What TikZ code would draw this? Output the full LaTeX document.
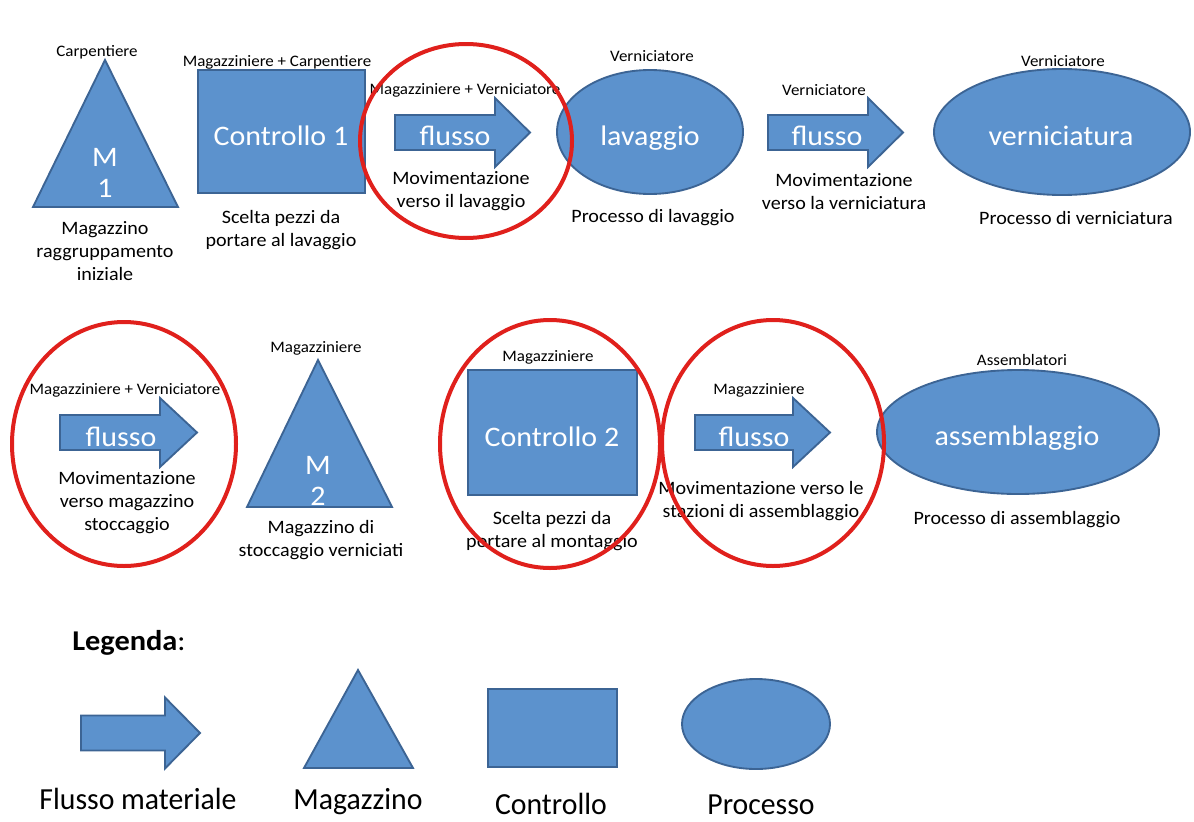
\documentclass[tikz,border=0pt]{standalone}
\usepackage{fontspec}
\setmainfont{Carlito}[FakeStretch=1.06]
\newfontfamily\legfont{Carlito}[FakeStretch=0.97]
\definecolor{shapefill}{RGB}{92,146,205}
\definecolor{shapeline}{RGB}{60,100,148}
\definecolor{ringred}{RGB}{224,32,28}
\newcommand{\flarrow}[5]{%
  \path[blueshape] (#1,{#4-17.5}) -- (#2,{#4-17.5}) -- (#2,{#4-#5}) -- (#3,#4)
    -- (#2,{#4+#5}) -- (#2,{#4+17.5}) -- (#1,{#4+17.5}) -- cycle;}
\begin{document}
\begin{tikzpicture}[x=0.75pt,y=-0.75pt,
  blueshape/.style={fill=shapefill,draw=shapeline,line width=1.4pt,line join=miter},
  redring/.style={draw=ringred,line width=3pt},
  sm/.style={font=\fontsize{12}{14}\selectfont,inner sep=0pt},
  desc/.style={font=\fontsize{14.2}{17.25}\selectfont,align=center,inner sep=0pt},
  big/.style={font=\fontsize{21.2}{24}\selectfont,text=white,inner sep=0pt,anchor=base},
  bigtri/.style={font=\fontsize{21.2}{23}\selectfont,text=white,align=center,inner sep=0pt},
  leg/.style={font=\legfont\fontsize{23}{28}\selectfont,inner sep=0pt,anchor=base}]
\useasboundingbox (0,0) rectangle (1194,821);
\fill[white] (0,0) rectangle (1194,821);

% ---------- Row 1 ----------
\path[blueshape] (105,60) -- (178,207) -- (33,207) -- cycle;
\path[blueshape] (198,70) rectangle (365,193);
\flarrow{395}{495}{530}{132.5}{34.5}
\path[blueshape] (650,132) ellipse [x radius=93, y radius=62];
\flarrow{768}{868}{903}{132.5}{34.5}
\path[blueshape] (1062,132) ellipse [x radius=128, y radius=63];

\node[bigtri] (m1t) at (105,173) {M\\1};
\node[big] (c1t) at (281,145) {Controllo 1};
\node[big] (f1t) at (455,145) {flusso};
\node[big] (l1t) at (650,145) {lavaggio};
\node[big] (f2t) at (827,145) {flusso};
\node[big] (v1t) at (1061,145) {verniciatura};

\node[sm] (m1s) at (97,52) {Carpentiere};
\node[sm] (c1s) at (277,62) {Magazziniere + Carpentiere};
\node[sm] (f1s) at (465,90) {Magazziniere + Verniciatore};
\node[sm] (l1s) at (652,56) {Verniciatore};
\node[sm] (f2s) at (824,90) {Verniciatore};
\node[sm] (v1s) at (1063,61) {Verniciatore};

\node[desc] (m1d) at (105,251) {Magazzino\\raggruppamento\\iniziale};
\node[desc] (c1d) at (281,230) {Scelta pezzi da\\portare al lavaggio};
\node[desc] (f1d) at (461,191) {Movimentazione\\verso il lavaggio};
\node[desc] (l1d) at (653,218) {Processo di lavaggio};
\node[desc] (f2d) at (844,192) {Movimentazione\\verso la verniciatura};
\node[desc] (v1d) at (1076,218) {Processo di verniciatura};

% ---------- Row 2 ----------
\flarrow{60}{160}{197}{432.5}{34.5}
\path[blueshape] (318,360) -- (392,507) -- (247,507) -- cycle;
\path[blueshape] (468,370) rectangle (637,495);
\flarrow{695}{793}{830}{432.5}{34.5}
\path[blueshape] (1018,432) ellipse [x radius=141, y radius=62];

\node[big] (f3t) at (121,446) {flusso};
\node[bigtri] (m2t) at (318,481) {M\\2};
\node[big] (c2t) at (552,446) {Controllo 2};
\node[big] (f4t) at (754,446) {flusso};
\node[big] (a1t) at (1017,445) {assemblaggio};

\node[sm] (f3s) at (125,390) {Magazziniere + Verniciatore};
\node[sm] (m2s) at (316,348) {Magazziniere};
\node[sm] (c2s) at (548,357) {Magazziniere};
\node[sm] (f4s) at (759,390) {Magazziniere};
\node[sm] (a1s) at (1022,360) {Assemblatori};

\node[desc] (f3d) at (127,503) {Movimentazione\\verso magazzino\\stoccaggio};
\node[desc] (m2d) at (321,540) {Magazzino di\\stoccaggio verniciati};
\node[desc] (c2d) at (552,531) {Scelta pezzi da\\portare al montaggio};
\node[desc] (f4d) at (761,501) {Movimentazione verso le\\stazioni di assemblaggio};
\node[desc] (a1d) at (1017,520) {Processo di assemblaggio};

% ---------- Red rings ----------
\draw[redring] (466,141) ellipse [x radius=106, y radius=97];
\draw[redring] (124,444) ellipse [x radius=112, y radius=122];
\draw[redring] (550,444) ellipse [x radius=110, y radius=124];
\draw[redring] (773,443) ellipse [x radius=111, y radius=123];

% ---------- Legend ----------
\node[anchor=west,inner sep=0pt,font=\fontsize{21.5}{25}\selectfont] (legtitle) at (72,643) {\textbf{Legenda}:};
\flarrow{81}{165}{200}{733}{35.5}
\path[blueshape] (358,670) -- (413,768) -- (304,768) -- cycle;
\path[blueshape] (488,689) rectangle (617,767);
\path[blueshape] (756,724) ellipse [x radius=74, y radius=45];
\node[leg] (lg1) at (138,809) {Flusso materiale};
\node[leg] (lg2) at (358,809) {Magazzino};
\node[leg] (lg3) at (551,814) {Controllo};
\node[leg] (lg4) at (761,814) {Processo};
\end{tikzpicture}
\end{document}
